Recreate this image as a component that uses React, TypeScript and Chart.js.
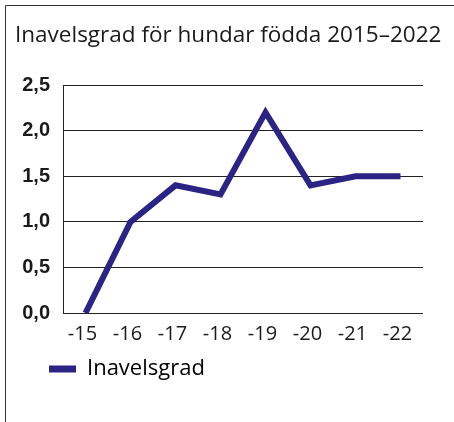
import React, { useEffect, useRef } from "react";
import { Chart, registerables } from "chart.js";

Chart.register(...registerables);

const TITLE = "Inavelsgrad för hundar födda 2015–2022";
const SERIES_LABEL = "Inavelsgrad";
const CATEGORIES = ["-15", "-16", "-17", "-18", "-19", "-20", "-21", "-22"];
const VALUES = [0.0, 1.0, 1.4, 1.3, 2.2, 1.4, 1.5, 1.5];
const Y_MIN = 0;
const Y_MAX = 2.5;
const Y_STEP = 0.5;

const LINE_COLOR = "#2c2484";
const INK = "#1a1a1a";

const framePlugin = {
  id: "frame",
  beforeDraw(chart: any) {
    const ctx = chart.ctx;
    ctx.save();
    ctx.strokeStyle = "#333333";
    ctx.lineWidth = 1;
    ctx.beginPath();
    ctx.moveTo(5.5, chart.height);
    ctx.lineTo(5.5, 5.5);
    ctx.lineTo(chart.width, 5.5);
    ctx.stroke();
    ctx.restore();
  },
};

// indent the legend so its marker lines up as in the reference
const legendIndentPlugin = {
  id: "legendIndent",
  afterLayout(chart: any) {
    if (chart.legend) {
      chart.legend.left += 31;
      chart.legend.right += 31;
    }
  },
};

export default function App() {
  const ref = useRef<HTMLCanvasElement | null>(null);

  useEffect(() => {
    if (!ref.current) return;
    const chart = new Chart(ref.current, {
      type: "line",
      data: {
        labels: CATEGORIES,
        datasets: [
          {
            label: SERIES_LABEL,
            data: VALUES,
            borderColor: LINE_COLOR,
            backgroundColor: LINE_COLOR,
            borderWidth: 6,
            pointRadius: 0,
            pointHoverRadius: 0,
            tension: 0,
            borderJoinStyle: "miter",
            borderCapStyle: "butt",
            fill: false,
          },
        ],
      },
      options: {
        animation: false,
        responsive: false,
        maintainAspectRatio: false,
        layout: { padding: { left: 15, right: 8, top: 0, bottom: 32 } },
        plugins: {
          tooltip: { enabled: false },
          title: {
            display: true,
            text: TITLE,
            align: "start",
            color: INK,
            font: { family: "'Open Sans'", size: 22.5, weight: "normal" },
            padding: { top: 22, bottom: 36 },
          },
          legend: {
            display: true,
            position: "bottom",
            align: "start",
            labels: {
              color: INK,
              font: { family: "'Open Sans'", size: 22 },
              boxWidth: 27,
              boxHeight: 7,
              padding: 3,
              generateLabels: (c: any) =>
                c.data.datasets.map((ds: any, i: number) => ({
                  text: ds.label,
                  fillStyle: ds.borderColor,
                  strokeStyle: ds.borderColor,
                  lineWidth: 0,
                  hidden: false,
                  datasetIndex: i,
                })),
            },
          },
        },
        scales: {
          x: {
            type: "category",
            offset: true,
            grid: { display: false, drawTicks: false },
            border: { display: false },
            ticks: {
              color: INK,
              font: { family: "'Open Sans'", size: 20, lineHeight: 1.0 },
              padding: 11,
              labelOffset: -3,
              autoSkip: false,
              maxRotation: 0,
            },
          },
          y: {
            min: Y_MIN,
            max: Y_MAX,
            grid: { color: "#222222", lineWidth: 1, drawTicks: false },
            border: { display: true, color: "#222222", width: 1 },
            ticks: {
              stepSize: Y_STEP,
              color: INK,
              font: { family: "'Liberation Sans'", size: 20, weight: "bold" },
              padding: 13,
              callback: (v: any) => Number(v).toFixed(1).replace(".", ","),
            },
            afterFit: (scale: any) => {
              scale.width = 48;
            },
          },
          // empty right-hand spacer so the plot stops short of the frame edge
          yRight: {
            position: "right",
            min: Y_MIN,
            max: Y_MAX,
            grid: { display: false, drawTicks: false },
            border: { display: false },
            ticks: { display: false },
            afterFit: (scale: any) => {
              scale.width = 23;
            },
          },
        },
      },
      plugins: [framePlugin, legendIndentPlugin],
    });
    return () => chart.destroy();
  }, []);

  return (
    <div style={{ position: "absolute", left: 0, top: 0, width: 454, height: 422, background: "#ffffff" }}>
      <canvas ref={ref} width={454} height={422} style={{ display: "block" }} />
    </div>
  );
}
